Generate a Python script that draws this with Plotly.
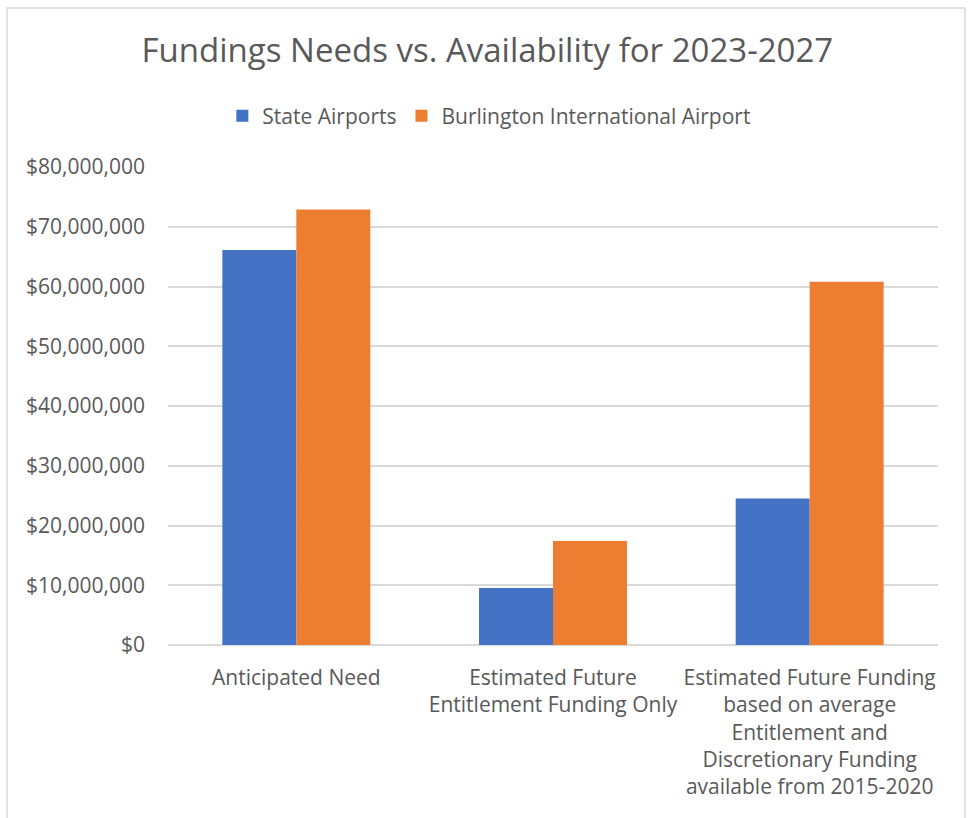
import plotly.graph_objects as go

categories = [
    "Anticipated Need",
    "Estimated Future<br>Entitlement Funding Only",
    "Estimated Future Funding<br>based on average<br>Entitlement and<br>Discretionary Funding<br>available from 2015-2020",
]
state_airports = [66100000, 9550000, 24500000]
burlington = [72900000, 17400000, 60800000]
tick_vals = [0, 10000000, 20000000, 30000000, 40000000, 50000000, 60000000, 70000000, 80000000]
tick_labels = ["$0", "$10,000,000", "$20,000,000", "$30,000,000", "$40,000,000",
               "$50,000,000", "$60,000,000", "$70,000,000", "$80,000,000"]

W, H = 969, 818
L, R, T, B = 168, 31, 167, 173
FONT = "Open Sans"
GRAY = "#595959"

fig = go.Figure()
fig.add_trace(go.Bar(name="State Airports", x=categories, y=state_airports,
                     marker=dict(color="#4472C4", line=dict(width=0))))
fig.add_trace(go.Bar(name="Burlington International Airport", x=categories, y=burlington,
                     marker=dict(color="#ED7D31", line=dict(width=0))))

pw = W - L - R
ph = H - T - B
def px_x(x):
    return (x - L) / pw
def px_y(y):
    return (H - B - y) / ph

fig.add_shape(type="rect", xref="paper", yref="paper",
              x0=px_x(7), x1=px_x(965), y0=px_y(830), y1=px_y(8),
              line=dict(color="#d9d9d9", width=1.5), fillcolor="rgba(0,0,0,0)", layer="below")

fig.update_layout(
    width=W, height=H,
    margin=dict(l=L, r=R, t=T, b=B),
    paper_bgcolor="white", plot_bgcolor="white",
    font=dict(family=FONT, color=GRAY, size=20),
    title=dict(text="Fundings Needs vs. Availability for 2023-2027",
               x=0.503, xref="container", xanchor="center",
               y=1 - 50 / H, yref="container", yanchor="middle",
               font=dict(size=33, color=GRAY, family=FONT)),
    legend=dict(orientation="h", x=0.505, xref="container", xanchor="center",
                y=1 - 116 / H, yref="container", yanchor="middle",
                font=dict(size=21, color=GRAY), itemwidth=30, traceorder="normal"),
    barmode="group", bargap=0.4235, bargroupgap=0,
    showlegend=True,
)
fig.update_yaxes(range=[0, 80000000], tickvals=tick_vals, ticktext=tick_labels,
                 showgrid=True, gridcolor="#d9d9d9", gridwidth=1.5,
                 zeroline=True, zerolinecolor="#d9d9d9", zerolinewidth=1.5,
                 showline=False, ticks="", ticklabelstandoff=22,
                 tickfont=dict(size=21, color=GRAY, family=FONT), fixedrange=True)
fig.update_xaxes(showline=False, ticks="", ticklabelstandoff=18,
                 tickfont=dict(size=21, color=GRAY, family=FONT), tickangle=0)

fig.write_html("out.html", config={"displayModeBar": False})
